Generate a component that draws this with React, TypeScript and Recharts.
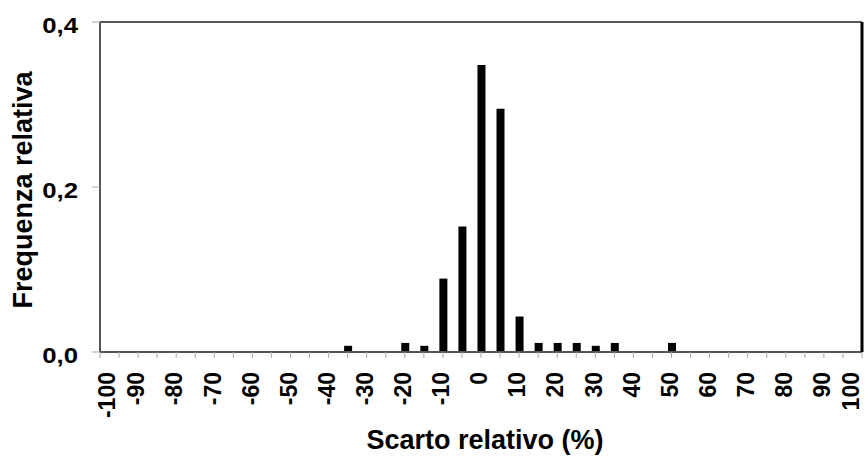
import React from 'react';
import { BarChart, Bar, XAxis, YAxis } from 'recharts';

const bins: number[] = [-35, -20, -15, -10, -5, 0, 5, 10, 15, 20, 25, 30, 35, 50];
const freq: number[] = [0.0075, 0.011, 0.0075, 0.089, 0.152, 0.348, 0.295, 0.043, 0.011, 0.011, 0.011, 0.0075, 0.011, 0.011];
const xTicks: number[] = [-100, -95, -90, -85, -80, -75, -70, -65, -60, -55, -50, -45, -40, -35, -30, -25, -20, -15, -10, -5, 0, 5, 10, 15, 20, 25, 30, 35, 40, 45, 50, 55, 60, 65, 70, 75, 80, 85, 90, 95, 100];
const xLabelled: number[] = [-100, -90, -80, -70, -60, -50, -40, -30, -20, -10, 0, 10, 20, 30, 40, 50, 60, 70, 80, 90, 100];
const yTicks: number[] = [0, 0.2, 0.4];

const data = bins.map((b, i) => ({ x: b, f: freq[i] }));

const FONT = "'Liberation Sans', Arial, sans-serif";

const XTick = (props: any) => {
  const { x, y, payload, index } = props;
  const v = payload.value;
  if (!xLabelled.includes(v)) return null;
  let dx = -2;
  if (index === 0) dx = 7;
  if (index === xTicks.length - 1) dx = -11;
  return (
    <g transform={`translate(${x + dx},${y}) rotate(-90)`}>
      <text x={0} y={0} dy="0.36em" textAnchor="end" fontSize={23} fontWeight="bold" fontFamily={FONT} fill="#000">
        {String(v)}
      </text>
    </g>
  );
};

const YTick = (props: any) => {
  const { x, y, payload } = props;
  const label = payload.value.toFixed(1).replace('.', ',');
  return (
    <g transform={`translate(${x},${y + 10.5}) scale(1.12,1)`}>
      <text x={0} y={0} textAnchor="end" fontSize={23} fontWeight="bold" fontFamily={FONT} fill="#000">
        {label}
      </text>
    </g>
  );
};

const YTitle = (props: any) => {
  const vb = props.viewBox || {};
  const cx = 22;
  const cy = (vb.y ?? 22) + (vb.height ?? 330) / 2 + 3;
  return (
    <g transform={`translate(${cx},${cy}) rotate(-90)`}>
      <text x={0} y={0} dy="0.36em" textAnchor="middle" fontSize={27} fontWeight="bold" fontFamily={FONT} fill="#000">
        Frequenza relativa
      </text>
    </g>
  );
};

export default function App() {
  return (
    <div style={{ position: 'absolute', left: 0, top: 0, width: 866, height: 462, background: '#fff' }}>
      <BarChart width={866} height={462} data={data} margin={{ top: 20, right: 1, bottom: 0, left: 0 }}>
        <XAxis
          dataKey="x"
          type="number"
          domain={[-100, 100]}
          ticks={xTicks}
          interval={0}
          height={110}
          axisLine={{ stroke: '#555', strokeWidth: 2 }}
          tickLine={{ stroke: '#aaa', strokeWidth: 1 }}
          tickSize={6}
          tickMargin={14}
          tick={<XTick />}
          allowDataOverflow
          label={{
            value: 'Scarto relativo (%)',
            position: 'insideBottom',
            offset: 13,
            dx: 4,
            style: { fontSize: 27, fontWeight: 'bold', fontFamily: FONT, fill: '#000' },
          }}
        />
        <XAxis
          xAxisId="top"
          orientation="top"
          type="number"
          domain={[-100, 100]}
          height={2}
          tick={false}
          tickLine={false}
          axisLine={{ stroke: '#555', strokeWidth: 2 }}
        />
        <YAxis
          type="number"
          domain={[0, 0.4]}
          ticks={yTicks}
          width={100}
          axisLine={{ stroke: '#555', strokeWidth: 2 }}
          tickLine={{ stroke: '#aaa', strokeWidth: 1 }}
          tickSize={8}
          tickMargin={14}
          tick={<YTick />}
          label={{ content: <YTitle /> }}
        />
        <YAxis
          yAxisId="right"
          orientation="right"
          type="number"
          domain={[0, 0.4]}
          width={3}
          tick={false}
          tickLine={false}
          axisLine={{ stroke: '#000', strokeWidth: 3 }}
        />
        <Bar dataKey="f" fill="#000" barSize={8} isAnimationActive={false} />
      </BarChart>
    </div>
  );
}
